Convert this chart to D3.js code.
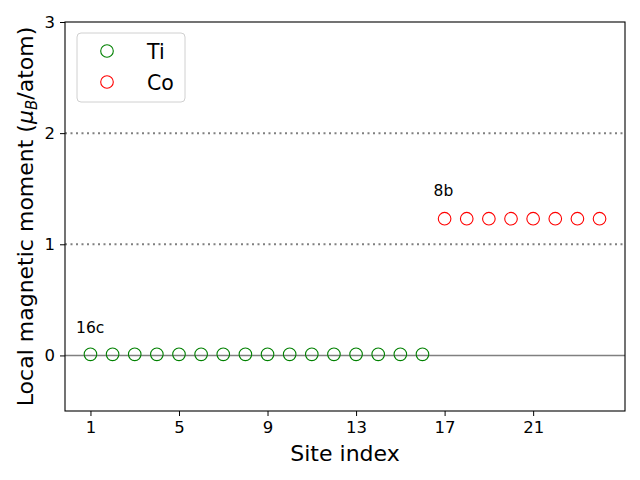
<!DOCTYPE html>
<html><head><meta charset="utf-8">
<script src="https://cdn.jsdelivr.net/npm/d3@7"></script>
<style>body{margin:0;background:#fff}svg{display:block;font-family:"DejaVu Sans",sans-serif}</style>
</head><body>
<svg id="c" width="640" height="480"></svg>
<script>
const tiSites = [1,2,3,4,5,6,7,8,9,10,11,12,13,14,15,16];
const tiValues = [0.01,0.01,0.01,0.01,0.01,0.01,0.01,0.01,0.01,0.01,0.01,0.01,0.01,0.01,0.01,0.01];
const coSites = [17,18,19,20,21,22,23,24];
const coValues = [1.23,1.23,1.23,1.23,1.23,1.23,1.23,1.23];
const xTicks = [1,5,9,13,17,21];
const yTicks = [0,1,2,3];
const refDotted = [1,2];
const annotations = [{x:0.35,y:0.2,t:"16c"},{x:16.5,y:1.43,t:"8b"}];
const series = [{name:"Ti",color:"green",xs:tiSites,ys:tiValues},{name:"Co",color:"red",xs:coSites,ys:coValues}];

const svg = d3.select("#c");
const L=65,R=625,T=22,B=411;
const x = d3.scaleLinear().domain([-0.15,25.15]).range([L,R]);
const y = d3.scaleLinear().domain([-0.5,3]).range([B,T]);

// reference lines
svg.append("line").attr("x1",L).attr("x2",R).attr("y1",y(0)).attr("y2",y(0))
  .attr("stroke","#808080").attr("stroke-width",1.5);
refDotted.forEach(v=>svg.append("line").attr("x1",L).attr("x2",R).attr("y1",y(v)).attr("y2",y(v))
  .attr("stroke","#808080").attr("stroke-width",2).attr("stroke-dasharray","2,3.5"));

// points
series.forEach(s=>{
  svg.append("g").selectAll("circle").data(s.xs.map((d,i)=>[d,s.ys[i]])).join("circle")
    .attr("cx",d=>x(d[0])).attr("cy",d=>y(d[1])).attr("r",6.3)
    .attr("fill","none").attr("stroke",s.color).attr("stroke-width",1.1);
});

// annotations
annotations.forEach(a=>svg.append("text").attr("x",x(a.x)).attr("y",y(a.y))
  .attr("font-size",15.5).text(a.t));

// axes
const gx = svg.append("g").attr("transform",`translate(0,${B})`)
  .call(d3.axisBottom(x).tickValues(xTicks).tickSize(5).tickPadding(5).tickFormat(d3.format("d")));
const gy = svg.append("g").attr("transform",`translate(${L},0)`)
  .call(d3.axisLeft(y).tickValues(yTicks).tickSize(5).tickPadding(5).tickFormat(d3.format("d")));
[gx,gy].forEach(g=>{g.select(".domain").remove();
  g.selectAll("text").attr("font-size",16.5).attr("font-family","DejaVu Sans").attr("fill","#000");
  g.selectAll("line").attr("stroke","#000").attr("stroke-width",1);});
svg.append("rect").attr("x",L).attr("y",T).attr("width",R-L).attr("height",B-T)
  .attr("fill","none").attr("stroke","#000").attr("stroke-width",1.1);

// labels
svg.append("text").attr("x",(L+R)/2).attr("y",461).attr("text-anchor","middle")
  .attr("font-size",22).text("Site index");
const yl = svg.append("text").attr("transform",`translate(33,${(T+B)/2}) rotate(-90)`)
  .attr("text-anchor","middle").attr("font-size",22);
yl.append("tspan").text("Local magnetic moment (");
yl.append("tspan").attr("font-style","italic").text("μ");
yl.append("tspan").attr("font-style","italic").attr("font-size",15).attr("dy",4).text("B");
yl.append("tspan").attr("dy",-4).text("/atom)");

// legend
const lg = svg.append("g");
lg.append("rect").attr("x",77).attr("y",33).attr("width",108).attr("height",69).attr("rx",4)
  .attr("fill","#fff").attr("fill-opacity",0.8).attr("stroke","#d0d0d0");
series.forEach((s,i)=>{
  const yy = 51 + i*31;
  lg.append("circle").attr("cx",107).attr("cy",yy).attr("r",6.3).attr("fill","none")
    .attr("stroke",s.color).attr("stroke-width",1.1);
  lg.append("text").attr("x",147).attr("y",yy+7.5).attr("font-size",20.5).text(s.name);
});
</script>
</body></html>
